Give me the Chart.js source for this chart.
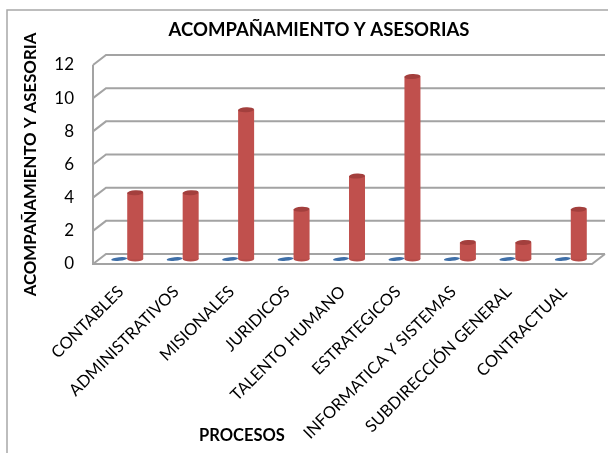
<!DOCTYPE html>
<html>
<head>
<meta charset="utf-8">
<script src="https://cdn.jsdelivr.net/npm/chart.js@4"></script>
<style>
  html, body { margin: 0; padding: 0; background: #fff; }
  canvas { display: block; }
</style>
</head>
<body>
<canvas id="chart" width="608" height="453"></canvas>
<script>
// ── Data ───────────────────────────────────────
const categories = ['CONTABLES', 'ADMINISTRATIVOS', 'MISIONALES', 'JURIDICOS', 'TALENTO HUMANO',
  'ESTRATEGICOS', 'INFORMATICA Y SISTEMAS', 'SUBDIRECCIÓN GENERAL', 'CONTRACTUAL'];
const blueValues = [0, 0, 0, 0, 0, 0, 0, 0, 0];
const redValues = [4, 4, 9, 3, 5, 11, 1, 1, 3];
const yTicks = [0, 2, 4, 6, 8, 10, 12];

const FONT = 'Lato, "Open Sans", sans-serif';
const DEPTH_X = 13, DEPTH_Y = 10;   // back wall offset of the fake 3D box

function cylinderFill(ctx) {
  const el = ctx.element;
  if (!el || !el.width) return '#c0504d';
  const g = ctx.chart.ctx.createLinearGradient(el.x - el.width / 2, 0, el.x + el.width / 2, 0);
  g.addColorStop(0, '#8e3a38');
  g.addColorStop(0.15, '#b84c49');
  g.addColorStop(0.5, '#cf5856');
  g.addColorStop(0.85, '#b04744');
  g.addColorStop(1, '#7f312f');
  return g;
}

// grey box behind the bars, drawn from the y scale
const boxPlugin = {
  id: 'box',
  beforeDatasetsDraw(chart) {
    const { ctx, chartArea: a, scales: { y } } = chart;
    ctx.save();
    ctx.strokeStyle = '#a3a3a3';
    ctx.lineWidth = 2;
    ctx.beginPath();
    yTicks.forEach(v => {
      const py = y.getPixelForValue(v);
      ctx.moveTo(a.left, py);
      ctx.lineTo(a.left + DEPTH_X, py - DEPTH_Y);
      ctx.lineTo(a.right + DEPTH_X, py - DEPTH_Y);
    });
    ctx.moveTo(a.left, a.top);
    ctx.lineTo(a.left, a.bottom);
    ctx.lineTo(a.right, a.bottom);
    ctx.lineTo(a.right + DEPTH_X, a.bottom - DEPTH_Y);
    ctx.stroke();
    ctx.restore();

    // bars stand in the middle of the box depth
    ctx.save();
    ctx.translate(DEPTH_X / 2, -DEPTH_Y / 2);
    chart.getDatasetMeta(0).data.forEach(bar => {
      ctx.fillStyle = '#3f6fa8';
      ctx.beginPath();
      ctx.ellipse(bar.x, bar.y, bar.width / 2, 1.8, -0.1, 0, Math.PI * 2);
      ctx.fill();
    });
    chart.getDatasetMeta(1).data.forEach(bar => {
      ctx.fillStyle = '#b84c49';
      ctx.beginPath();
      ctx.ellipse(bar.x, bar.base, bar.width / 2, 2.5, 0, 0, Math.PI * 2);
      ctx.fill();
    });
  },
  afterDatasetsDraw(chart) {
    const { ctx } = chart;
    chart.getDatasetMeta(1).data.forEach(bar => {
      ctx.fillStyle = '#a33f3d';
      ctx.beginPath();
      ctx.ellipse(bar.x, bar.y, bar.width / 2, 2.5, -0.05, 0, Math.PI * 2);
      ctx.fill();
    });
    ctx.restore();
  },
  beforeDraw(chart) {
    const { ctx } = chart;
    ctx.save();
    ctx.fillStyle = '#fff';
    ctx.fillRect(0, 0, chart.width, chart.height);
    ctx.strokeStyle = '#a8a8a8';
    ctx.lineWidth = 1.5;
    ctx.beginPath();
    ctx.moveTo(7, chart.height);
    ctx.lineTo(7, 10);
    ctx.lineTo(chart.width, 10);
    ctx.stroke();
    ctx.restore();
  },
  afterDraw(chart) {
    const { ctx } = chart;
    ctx.save();
    ctx.fillStyle = '#000';
    ctx.font = 'bold 16.5px ' + FONT;
    ctx.textAlign = 'center';
    ctx.textBaseline = 'middle';
    ctx.fillText('PROCESOS', 242, 436);
    ctx.restore();
  },
  afterLayout(chart) {
    // title sits right of the canvas centre
    chart.titleBlock.left += 23;
    chart.titleBlock.right += 23;
  },
};

new Chart(document.getElementById('chart'), {
  type: 'bar',
  data: {
    labels: categories,
    datasets: [
      { label: 'Serie 1', data: blueValues, clip: false,
        backgroundColor: '#3f6fa8', borderWidth: 0 },
      { label: 'Serie 2', data: redValues, clip: false,
        backgroundColor: cylinderFill, borderWidth: 0 },
    ],
  },
  options: {
    responsive: false,
    animation: false,
    categoryPercentage: 0.5776,
    barPercentage: 1,
    layout: { padding: { right: 16 } },
    plugins: {
      legend: { display: false },
      tooltip: { enabled: false },
      title: {
        display: true,
        text: 'ACOMPAÑAMIENTO Y ASESORIAS',
        color: '#000',
        font: { family: FONT, size: 18.5, weight: 'bold' },
        padding: { top: 19, bottom: 23.8 },
      },
    },
    scales: {
      x: {
        grid: { display: false },
        border: { display: false },
        afterFit(s) { s.height = 189; },
        ticks: {
          color: '#000',
          font: { family: FONT, size: 16.5 },
          minRotation: 45,
          maxRotation: 45,
          autoSkip: false,
          padding: 10,
        },
      },
      y: {
        min: 0,
        max: 12,
        afterFit(s) { s.width = 93; },
        afterBuildTicks(s) { s.ticks = yTicks.map(value => ({ value })); },
        grid: { display: false },
        border: { display: false },
        ticks: { color: '#000', font: { family: FONT, size: 17 }, padding: 11 },
        title: {
          display: true,
          text: 'ACOMPAÑAMIENTO Y ASESORIA',
          color: '#000',
          font: { family: FONT, size: 16.8, weight: 'bold' },
          padding: { top: 21, bottom: 0 },
        },
      },
    },
  },
  plugins: [boxPlugin],
});
</script>
</body>
</html>
